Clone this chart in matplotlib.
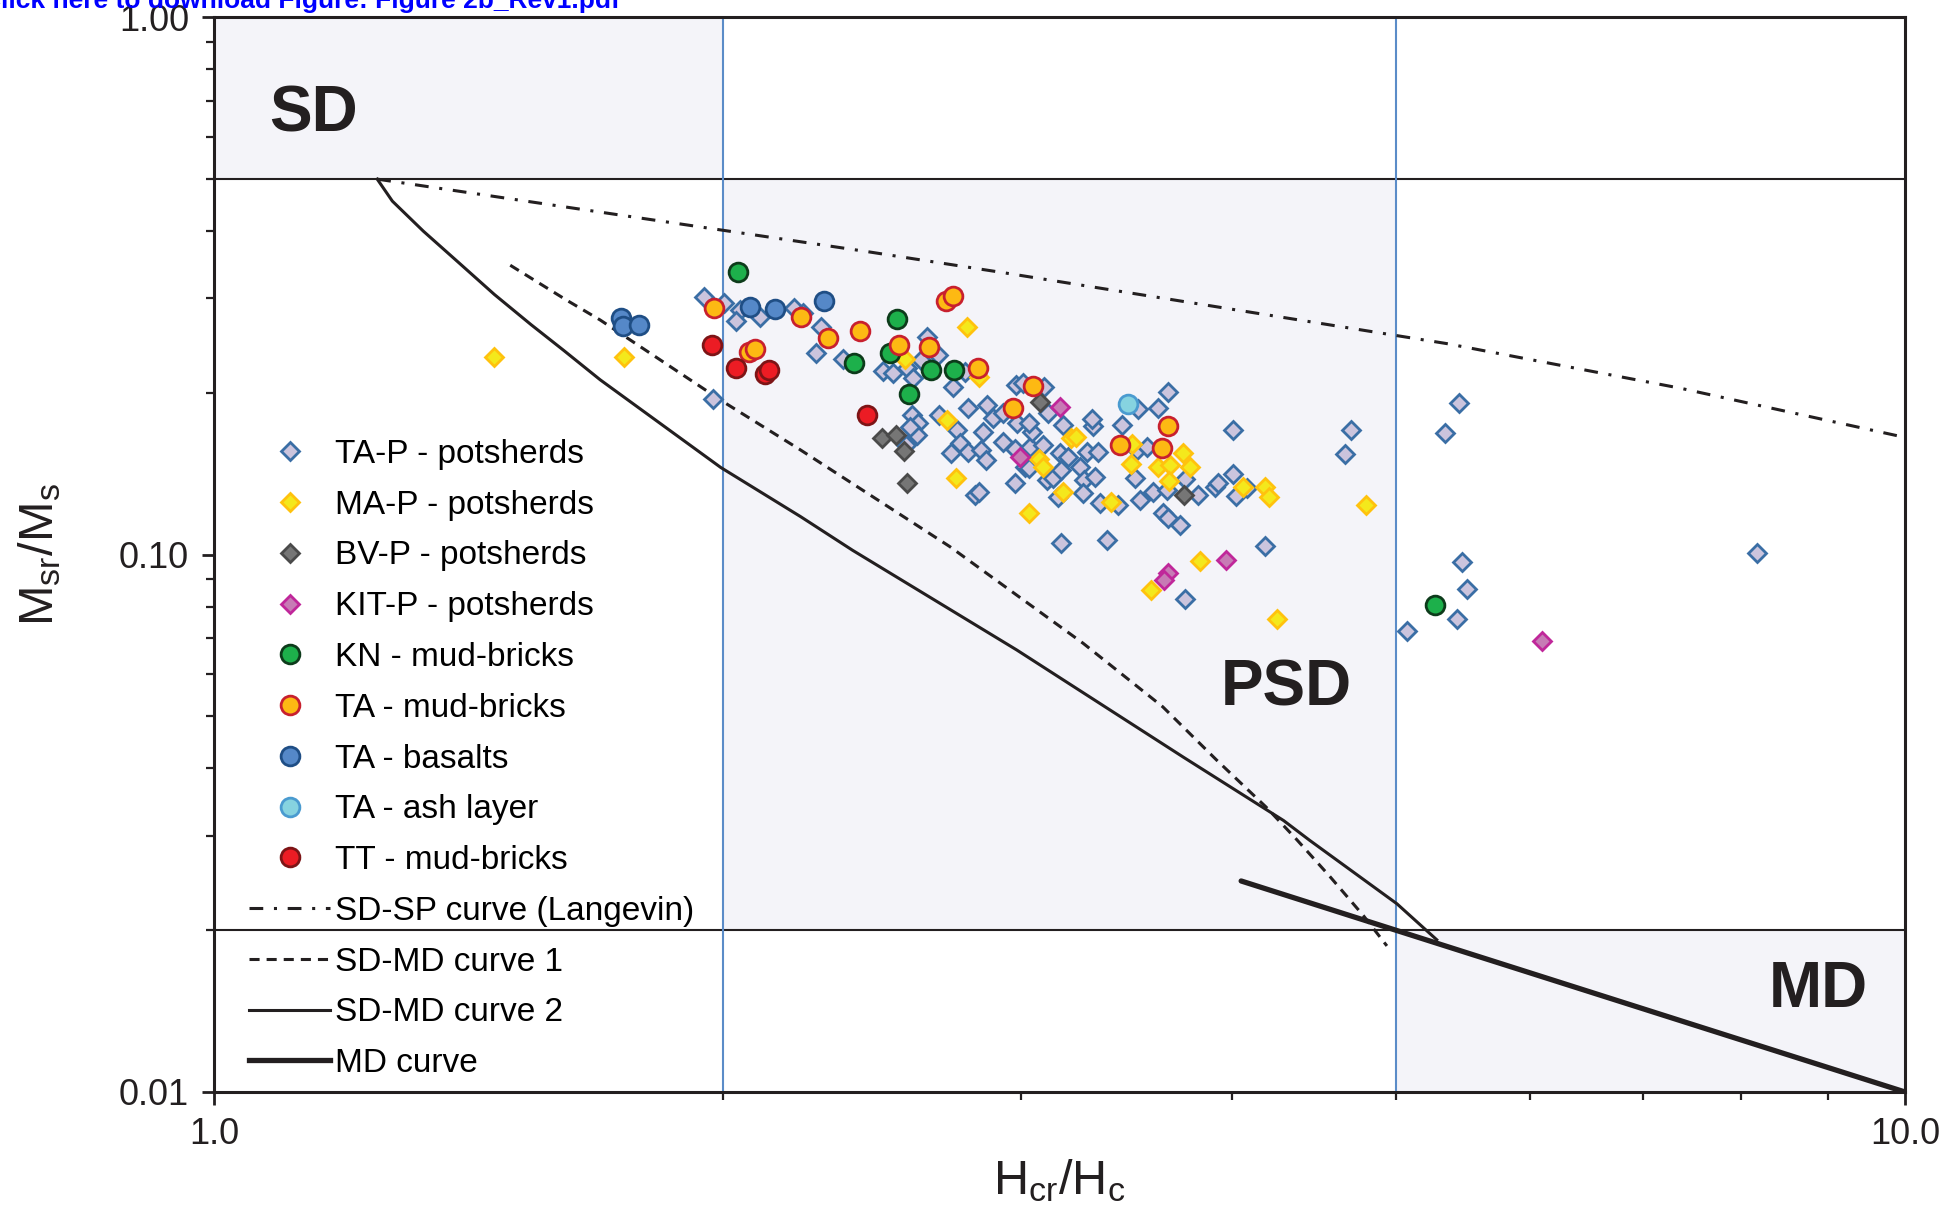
import numpy as np
import matplotlib
matplotlib.use('Agg')
import matplotlib.pyplot as plt
from matplotlib.lines import Line2D
from matplotlib.ticker import FixedLocator, FixedFormatter, LogLocator, NullFormatter

plt.rcParams['font.family'] = ['Liberation Sans', 'DejaVu Sans']
plt.rcParams['mathtext.default'] = 'regular'

# ---- data: Hcr/Hc and Mrs/Ms for each group ----
tap_h = [1.949, 2.002, 2.047, 2.036, 2.103, 2.203, 2.231, 2.284, 2.269, 2.356,
         1.973, 2.486, 2.522, 2.568, 2.592, 2.641, 2.618, 2.681, 2.736, 2.780,
         2.586, 2.609, 2.604, 2.580, 2.566, 2.685, 2.751, 2.793, 2.864, 2.887,
         2.929, 2.980, 3.008, 2.762, 2.793, 2.730, 2.840, 2.861, 2.848, 2.929,
         2.977, 3.038, 3.045, 2.977, 2.818, 2.835, 3.093, 3.108, 3.017, 3.097,
         3.114, 2.983, 3.164, 3.176, 3.201, 3.136, 3.171, 3.252, 3.270, 3.266,
         3.282, 3.334, 3.312, 3.304, 3.442, 3.319, 3.341, 3.426, 3.513, 3.561,
         3.504, 3.529, 3.594, 3.643, 3.667, 3.521, 3.618, 3.667, 3.372, 3.171,
         3.035, 3.660, 3.752, 3.820, 3.908, 3.926, 4.007, 4.022, 4.003, 4.701,
         4.665, 5.346, 3.157, 3.726, 4.184, 5.451, 5.468, 5.506, 5.431, 5.079,
         3.752, 8.177, 4.084, 3.032]
tap_m = [0.302, 0.2945, 0.2854, 0.2726, 0.2773, 0.2875, 0.2813, 0.2650, 0.2370, 0.2310,
         0.1949, 0.2201, 0.2176, 0.2223, 0.2129, 0.2546, 0.2303, 0.2354, 0.2054, 0.2191,
         0.1820, 0.1756, 0.1670, 0.1731, 0.1600, 0.1820, 0.1706, 0.1872, 0.1899, 0.1794,
         0.1837, 0.2070, 0.2084, 0.1616, 0.1555, 0.1548, 0.1566, 0.1500, 0.1694, 0.1623,
         0.1570, 0.1588, 0.1694, 0.1358, 0.1291, 0.1310, 0.1600, 0.1377, 0.1458, 0.2054,
         0.1837, 0.1761, 0.1544, 0.1743, 0.1522, 0.1387, 0.1437, 0.1458, 0.1377, 0.1301,
         0.1555, 0.1555, 0.1735, 0.1786, 0.1743, 0.1397, 0.1246, 0.1237, 0.1566, 0.1584,
         0.1387, 0.1264, 0.1310, 0.1194, 0.1169, 0.1864, 0.1872, 0.2011, 0.1065, 0.1050,
         0.1756, 0.1319, 0.1381, 0.1291, 0.1335, 0.1361, 0.1413, 0.1286, 0.1706, 0.1706,
         0.1539, 0.1683, 0.1282, 0.1135, 0.1037, 0.1919, 0.0970, 0.0862, 0.0758, 0.0722,
         0.0826, 0.1009, 0.1329, 0.1447]

map_h = [1.465, 1.748, 2.787, 2.561, 2.835, 2.715, 2.747, 3.035, 3.074, 3.091,
         3.176, 3.211, 3.235, 3.391, 3.489, 3.484, 3.617, 3.675, 3.672, 3.740,
         3.777, 4.059, 4.181, 4.204, 4.802, 3.830, 3.584, 4.251]
map_m = [0.2336, 0.2330, 0.2649, 0.2310, 0.2138, 0.1781, 0.1392, 0.1197, 0.1505, 0.1458,
         0.1310, 0.1646, 0.1658, 0.1255, 0.1605, 0.1472, 0.1458, 0.1468, 0.1372, 0.1549,
         0.1453, 0.1335, 0.1338, 0.1282, 0.1237, 0.0973, 0.0859, 0.0758]

bvp_h = [2.485, 2.530, 2.559, 2.568, 3.080, 3.746]
bvp_m = [0.1646, 0.1669, 0.1560, 0.1358, 0.1927, 0.1291]

kit_h = [3.164, 2.996, 3.667, 3.645, 3.966, 6.099]
kit_m = [0.1880, 0.1518, 0.0926, 0.0897, 0.0977, 0.0691]

kn_h = [2.042, 2.536, 2.512, 2.391, 2.655, 2.740, 2.575, 5.274]
kn_m = [0.3364, 0.2749, 0.2376, 0.2277, 0.2207, 0.2207, 0.1991, 0.0805]

tamb_h = [1.975, 2.072, 2.088, 2.223, 2.307, 2.411, 2.543, 2.648, 2.710, 2.734,
          2.831, 3.051, 2.970, 3.667, 3.434, 3.634]
tamb_m = [0.2873, 0.2384, 0.2411, 0.2765, 0.2530, 0.2604, 0.2456, 0.2435, 0.2969, 0.3028,
          0.2223, 0.2061, 0.1872, 0.1735, 0.1601, 0.1580]

bas_h = [1.740, 1.745, 1.785, 2.074, 2.148, 2.294]
bas_m = [0.2754, 0.2666, 0.2680, 0.2893, 0.2867, 0.2969]

ash_h = [3.47]
ash_m = [0.191]

tt_h = [1.969, 2.037, 2.118, 2.129, 2.432]
tt_m = [0.2456, 0.2223, 0.2166, 0.2207, 0.1817]

# reference curves
sdsp_h = [1.249, 2.431, 2.929, 5.358, 7.37, 10.0]
sdsp_m = [0.5, 0.3667, 0.3349, 0.2471, 0.204, 0.1653]

sdmd1_h = [1.497, 1.616, 1.692, 2.000, 2.223, 2.724, 3.266, 3.640, 3.916, 4.190,
           4.368, 4.569, 4.783, 4.939]
sdmd1_m = [0.3457, 0.2978, 0.2734, 0.1927, 0.1566, 0.1035, 0.0684, 0.0521, 0.0415, 0.0339,
           0.0295, 0.0252, 0.0213, 0.0187]

sdmd2_h = [1.249, 1.275, 1.330, 1.395, 1.465, 1.540, 1.610, 1.692, 1.994, 2.223,
           2.386, 2.983, 3.743, 4.291, 4.446, 5.007, 5.286]
sdmd2_m = [0.5, 0.455, 0.400, 0.350, 0.305, 0.268, 0.240, 0.2116, 0.1453, 0.1177,
           0.1019, 0.0665, 0.0420, 0.0320, 0.0294, 0.0224, 0.0192]

md_h = [4.05, 5.0, 10.0]
md_m = [0.0247, 0.02, 0.01]

# domain boundaries
sd_ratio, md_ratio = 0.5, 0.02
sd_hc, md_hc = 2.0, 5.0

shade = '#f4f4f9'
lblue = '#5b8cc8'
ink = '#231f20'
dashdot = (0, (4.5, 3.5, 1, 3.5))
dashed = (0, (3.3, 2.3))

fig = plt.figure(figsize=(19.52, 12.07), dpi=100)
ax = fig.add_axes([0.1096, 0.0953, 0.8663, 0.8903])
ax.set_xscale('log')
ax.set_yscale('log')
ax.set_xlim(1, 10)
ax.set_ylim(0.01, 1)

ax.fill_between([1, sd_hc], sd_ratio, 1, color=shade, lw=0, zorder=0)
ax.fill_between([sd_hc, md_hc], md_ratio, sd_ratio, color=shade, lw=0, zorder=0)
ax.fill_between([md_hc, 10], 0.01, md_ratio, color=shade, lw=0, zorder=0)
ax.axhline(sd_ratio, color=ink, lw=1.5, zorder=1)
ax.axhline(md_ratio, color=ink, lw=1.5, zorder=1)
ax.axvline(sd_hc, color=lblue, lw=1.5, zorder=1)
ax.axvline(md_hc, color=lblue, lw=1.5, zorder=1)

ax.plot(sdsp_h, sdsp_m, color=ink, lw=2.2, ls=dashdot, zorder=2)
ax.plot(sdmd1_h, sdmd1_m, color=ink, lw=2.2, ls=dashed, zorder=2)
ax.plot(sdmd2_h, sdmd2_m, color=ink, lw=2.2, zorder=2)
ax.plot(md_h, md_m, color=ink, lw=3.8, solid_capstyle='round', zorder=2)

groups = [
    (tap_h, tap_m, 'D', '#cbc4dd', '#3a6ea5', 'TA-P - potsherds'),
    (map_h, map_m, 'D', '#f4e81c', '#ffc20e', 'MA-P - potsherds'),
    (bvp_h, bvp_m, 'D', '#767676', '#4a4a4a', 'BV-P - potsherds'),
    (kit_h, kit_m, 'D', '#c77bb5', '#c0279a', 'KIT-P - potsherds'),
    (kn_h, kn_m, 'o', '#1db04b', '#0d3b1b', 'KN - mud-bricks'),
    (tamb_h, tamb_m, 'o', '#fdb913', '#c8202e', 'TA - mud-bricks'),
    (bas_h, bas_m, 'o', '#5588c8', '#1f4e85', 'TA - basalts'),
    (ash_h, ash_m, 'o', '#86d3e0', '#4a9bd0', 'TA - ash layer'),
    (tt_h, tt_m, 'o', '#ec1c24', '#7d1416', 'TT - mud-bricks'),
]
handles = []
for h, m, mk, fc, ec, lab in groups:
    ms = 9.5 if mk == 'D' else 13.5
    ax.plot(h, m, ls='none', marker=mk, ms=ms, mfc=fc, mec=ec, mew=2, zorder=3)
    handles.append(Line2D([], [], ls='none', marker=mk, ms=ms, mfc=fc, mec=ec, mew=2, label=lab))
handles.append(Line2D([], [], color=ink, lw=2.2, ls=dashdot, label='SD-SP curve (Langevin)'))
handles.append(Line2D([], [], color=ink, lw=2.2, ls=dashed, label='SD-MD curve 1'))
handles.append(Line2D([], [], color=ink, lw=2.2, label='SD-MD curve 2'))
handles.append(Line2D([], [], color=ink, lw=3.8, label='MD curve'))

ax.legend(handles=handles, loc='upper left', bbox_to_anchor=(0.0206, 0.6077), frameon=False,
          fontsize=24, handlelength=2.45, handletextpad=0.15, labelspacing=0.593,
          borderpad=0, borderaxespad=0)

# region names
ax.text(0.0589, 0.9096, 'SD', transform=ax.transAxes, ha='center', va='center',
        fontsize=46, fontweight='bold', color=ink)
ax.text(0.634, 0.3754, 'PSD', transform=ax.transAxes, ha='center', va='center',
        fontsize=46, fontweight='bold', color=ink)
ax.text(0.9485, 0.095, 'MD', transform=ax.transAxes, ha='center', va='center',
        fontsize=46, fontweight='bold', color=ink)

# axes and ticks
for s in ax.spines.values():
    s.set_linewidth(2.2)
    s.set_color(ink)
ax.xaxis.set_major_locator(FixedLocator([1, 10]))
ax.xaxis.set_major_formatter(FixedFormatter(['1.0', '10.0']))
ax.xaxis.set_minor_locator(LogLocator(base=10, subs=np.arange(2, 10)))
ax.xaxis.set_minor_formatter(NullFormatter())
ax.yaxis.set_major_locator(FixedLocator([0.01, 0.1, 1]))
ax.yaxis.set_major_formatter(FixedFormatter(['0.01', '0.10', '1.00']))
ax.yaxis.set_minor_locator(LogLocator(base=10, subs=np.arange(2, 10)))
ax.yaxis.set_minor_formatter(NullFormatter())
ax.tick_params(which='major', direction='out', length=9, width=2, labelsize=26, colors=ink, pad=9)
ax.tick_params(which='minor', direction='out', length=6, width=1.6, colors=ink)

ax.set_xlabel('H$_{cr}$/H$_{c}$', fontsize=35, color=ink, labelpad=4)
ax.set_ylabel('M$_{sr}$/M$_{s}$', fontsize=35, color=ink, labelpad=40)

fig.text(-0.0092, 1 - 8 / 1207, 'Click here to download Figure: Figure 2b_Rev1.pdf',
         color='#0000ff', fontsize=19, fontweight='bold', ha='left', va='baseline')

fig.savefig('out.png', dpi=100)
